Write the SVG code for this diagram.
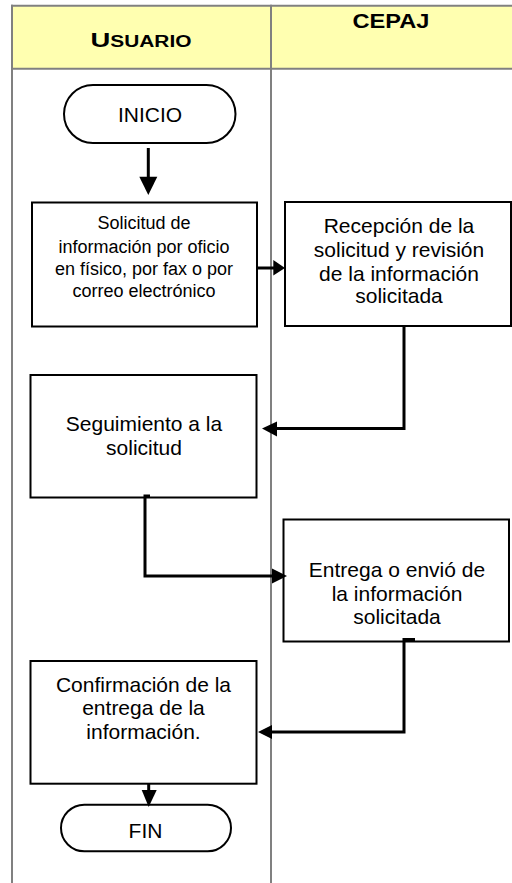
<svg xmlns="http://www.w3.org/2000/svg" width="512" height="883" viewBox="0 0 512 883">
<style>
text{font-family:"Liberation Sans",Arial,sans-serif;fill:#000;text-anchor:middle}
.hdr{font-weight:bold}
.box{fill:#fff;stroke:#000;stroke-width:2}
.lane{stroke:#808080;stroke-width:2;fill:none}
.con{stroke:#000;stroke-width:3;fill:none}
.ah{fill:#000}
.t18{font-size:18px}
.t21{font-size:21px}
</style>
<rect x="0" y="0" width="512" height="883" fill="#fff"/>
<g id="header">
<rect x="12" y="5.7" width="502" height="63" fill="#FFFFB0"/>
<line class="lane" x1="11" y1="5.7" x2="512" y2="5.7"/>
<line class="lane" x1="12" y1="68.7" x2="512" y2="68.7"/>
<line class="lane" x1="12" y1="4.7" x2="12" y2="883"/>
<line class="lane" x1="271" y1="4.7" x2="271" y2="883"/>
<text class="hdr" x="141" y="46.7" textLength="101" lengthAdjust="spacingAndGlyphs"><tspan font-size="21">U</tspan><tspan font-size="16">SUARIO</tspan></text>
<text class="hdr" x="391" y="27.7" font-size="20" textLength="77" lengthAdjust="spacingAndGlyphs">CEPAJ</text>
</g>
<g id="inicio">
<rect class="box" x="64" y="85" width="171.5" height="58" rx="29" ry="29"/>
<text class="t21" x="150" y="121.7">INICIO</text>
</g>
<g id="solicitud">
<rect class="box" x="32" y="202.5" width="225" height="124"/>
<text class="t18" x="144" y="229.3">Solicitud de</text>
<text class="t18" x="144" y="252.7">información por oficio</text>
<text class="t18" x="144" y="275">en físico, por fax o por</text>
<text class="t18" x="144" y="296.7">correo electrónico</text>
</g>
<g id="recepcion">
<rect class="box" x="285" y="202" width="226" height="124"/>
<text class="t21" x="399" y="233.3">Recepción de la</text>
<text class="t21" x="399" y="257.3">solicitud y revisión</text>
<text class="t21" x="399" y="280.7">de la información</text>
<text class="t21" x="399" y="303.3">solicitada</text>
</g>
<g id="seguimiento">
<rect class="box" x="30.5" y="375" width="226" height="122.5"/>
<text class="t21" x="144" y="430.7">Seguimiento a la</text>
<text class="t21" x="144" y="455">solicitud</text>
</g>
<g id="entrega">
<rect class="box" x="283.5" y="519.5" width="225.5" height="122"/>
<text class="t21" x="397" y="576.7">Entrega o envió de</text>
<text class="t21" x="397" y="600.5">la información</text>
<text class="t21" x="397" y="624.3">solicitada</text>
</g>
<g id="confirmacion">
<rect class="box" x="30.5" y="661" width="226" height="122.7"/>
<text class="t21" x="143.5" y="691.7">Confirmación de la</text>
<text class="t21" x="143.5" y="715">entrega de la</text>
<text class="t21" x="143.5" y="739.3">información.</text>
</g>
<g id="fin">
<rect class="box" x="61" y="804.7" width="170" height="46.6" rx="23.3" ry="23.3"/>
<text class="t21" x="145.5" y="838.3">FIN</text>
</g>
<g id="connectors">
<line class="con" x1="148.3" y1="148" x2="148.3" y2="178"/>
<polygon class="ah" points="139.3,176.7 157.3,176.7 148.3,195"/>
<line class="con" x1="257" y1="268" x2="274" y2="268"/>
<polygon class="ah" points="273.3,260 273.3,275.5 285,268"/>
<polyline class="con" points="404,326 404,428.5 276,428.5"/>
<polygon class="ah" points="277,421.5 277,436.5 262,428.5"/>
<polyline class="con" points="150,496 145,496 145,576 273,576"/>
<polygon class="ah" points="272,568.5 272,583.5 287,576"/>
<polyline class="con" points="415,639.5 404,639.5 404,732 271,732"/>
<polygon class="ah" points="272,725 272,739 258,732"/>
<line class="con" x1="148.7" y1="784" x2="148.7" y2="791"/>
<polygon class="ah" points="141.7,790 156.7,790 148.7,807"/>
</g>
</svg>
